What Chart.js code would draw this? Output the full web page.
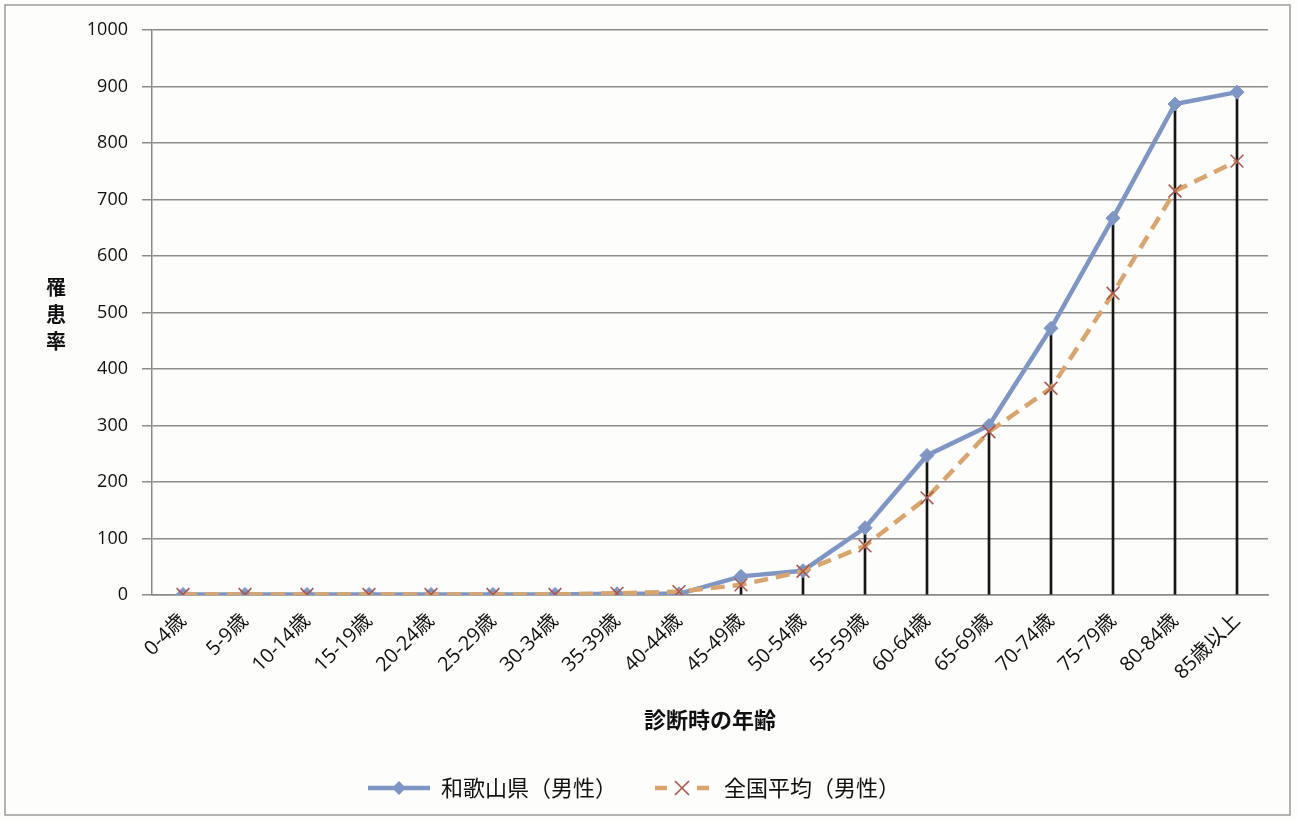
<!DOCTYPE html>
<html>
<head>
<meta charset="utf-8">
<title>診断時の年齢別 罹患率</title>
<script src="https://cdn.jsdelivr.net/npm/chart.js@4.4.1/dist/chart.umd.min.js"></script>
<style>
  html, body { margin: 0; padding: 0; background: #fdfdfb; }
  #wrap { width: 1297px; height: 821px; }
</style>
</head>
<body>
<div id="wrap"><canvas id="chart" width="1297" height="821"></canvas></div>
<script>
// Data
const ageGroups = ['0-4歳', '5-9歳', '10-14歳', '15-19歳', '20-24歳', '25-29歳', '30-34歳', '35-39歳', '40-44歳',
    '45-49歳', '50-54歳', '55-59歳', '60-64歳', '65-69歳', '70-74歳', '75-79歳', '80-84歳', '85歳以上'];
const wakayamaMale = [1, 1, 1, 1, 1, 1, 1, 2, 2, 33, 43, 119, 247, 300, 472, 667, 869, 890];
const nationalMale = [1, 1, 1, 1, 1, 1, 1, 3, 6, 18, 42, 87, 172, 289, 366, 534, 715, 768];
const yTicks = [0, 100, 200, 300, 400, 500, 600, 700, 800, 900, 1000];

// drop lines go from the higher of the two points down to the axis
const dropLines = wakayamaMale.map((v, i) => Math.max(v, nationalMale[i]));

const BLUE = '#7f96c4';
const TAN = '#d9a56e';
const RED_X = '#a8584f';
const FONT = '"Open Sans", "Noto Sans CJK JP", sans-serif';
const CJK = '"Noto Sans CJK JP", sans-serif';

// legend icons (line + marker), like the Excel legend
function makeIcon(kind) {
    const c = document.createElement('canvas');
    c.width = 62;
    c.height = 20;
    const g = c.getContext('2d');
    if (kind === 'blue') {
        g.strokeStyle = BLUE;
        g.lineWidth = 4.5;
        g.beginPath();
        g.moveTo(0, 10);
        g.lineTo(62, 10);
        g.stroke();
        g.fillStyle = BLUE;
        g.beginPath();
        g.moveTo(31, 3);
        g.lineTo(38, 10);
        g.lineTo(31, 17);
        g.lineTo(24, 10);
        g.closePath();
        g.fill();
    } else {
        g.strokeStyle = TAN;
        g.lineWidth = 4.5;
        g.beginPath();
        g.moveTo(4, 10);
        g.lineTo(16, 10);
        g.moveTo(46, 10);
        g.lineTo(58, 10);
        g.stroke();
        g.strokeStyle = RED_X;
        g.lineWidth = 1.6;
        g.beginPath();
        g.moveTo(24, 3);
        g.lineTo(38, 17);
        g.moveTo(38, 3);
        g.lineTo(24, 17);
        g.stroke();
    }
    return c;
}
const legendIcons = [makeIcon('blue'), makeIcon('tan')];

// background, outer frame and the stacked y-axis title
const framePlugin = {
    id: 'frame',
    beforeDraw(chart) {
        const ctx = chart.ctx;
        ctx.save();
        ctx.fillStyle = '#fdfdfb';
        ctx.fillRect(0, 0, chart.width, chart.height);
        ctx.strokeStyle = '#9a9a9a';
        ctx.lineWidth = 1.5;
        ctx.strokeRect(5, 5, 1285, 810);
        ctx.restore();
    },
    afterDraw(chart) {
        const ctx = chart.ctx;
        ctx.save();
        ctx.fillStyle = '#111';
        ctx.font = 'bold 20px ' + CJK;
        ctx.textAlign = 'center';
        ctx.textBaseline = 'middle';
        ['罹', '患', '率'].forEach((ch, i) => ctx.fillText(ch, 56, 287 + i * 27));
        ctx.restore();
    }
};

const ctx = document.getElementById('chart').getContext('2d');
const chart = new Chart(ctx, {
    type: 'line',
    data: {
        labels: ageGroups,
        datasets: [{
            label: '和歌山県（男性）',
            data: wakayamaMale,
            borderColor: BLUE,
            backgroundColor: BLUE,
            borderWidth: 4.5,
            pointStyle: 'rectRot',
            pointRadius: 7,
            pointBorderWidth: 1,
            tension: 0,
            order: 1
        }, {
            label: '全国平均（男性）',
            data: nationalMale,
            borderColor: TAN,
            backgroundColor: TAN,
            borderWidth: 4.5,
            borderDash: [14, 8],
            pointStyle: 'crossRot',
            pointRadius: 9,
            pointBorderColor: RED_X,
            pointBorderWidth: 1.6,
            tension: 0,
            order: 0
        }, {
            type: 'bar',
            label: 'drop',
            data: dropLines,
            backgroundColor: '#151515',
            barThickness: 2,
            order: 2
        }]
    },
    options: {
        responsive: false,
        animation: false,
        layout: {
            padding: { top: 30, right: 29, left: 0, bottom: 12 }
        },
        plugins: {
            tooltip: { enabled: false },
            legend: {
                position: 'bottom',
                labels: {
                    usePointStyle: true,
                    pointStyleWidth: 62,
                    padding: 34,
                    color: '#111',
                    font: { family: CJK, size: 22 },
                    filter: (item) => item.datasetIndex < 2,
                    generateLabels(chart) {
                        const items = Chart.defaults.plugins.legend.labels.generateLabels(chart);
                        items.forEach(it => { it.pointStyle = legendIcons[it.datasetIndex]; });
                        return items.sort((a, b) => a.datasetIndex - b.datasetIndex);
                    }
                }
            }
        },
        scales: {
            x: {
                type: 'category',
                offset: true,
                grid: { display: false, drawTicks: false },
                border: { display: true, color: '#8a8a8a', width: 1.5 },
                ticks: {
                    minRotation: 45,
                    maxRotation: 45,
                    padding: 14,
                    color: '#111',
                    font: { family: FONT, size: 20 }
                },
                title: {
                    display: true,
                    text: '診断時の年齢',
                    color: '#111',
                    font: { family: CJK, size: 22, weight: 'bold' },
                    padding: { top: 0, bottom: 10 }
                },
                afterFit(scale) { scale.height = 148; }
            },
            y: {
                min: 0,
                max: 1000,
                afterBuildTicks(scale) { scale.ticks = yTicks.map(v => ({ value: v })); },
                grid: { color: '#8c8c8c', lineWidth: 1.5, tickLength: 10 },
                border: { display: true, color: '#8a8a8a', width: 1.5 },
                ticks: {
                    padding: 14,
                    color: '#111',
                    font: { family: FONT, size: 18 },
                    callback: (v) => String(v)
                },
                afterFit(scale) { scale.width = 152; }
            }
        }
    },
    plugins: [framePlugin]
});
</script>
</body>
</html>
